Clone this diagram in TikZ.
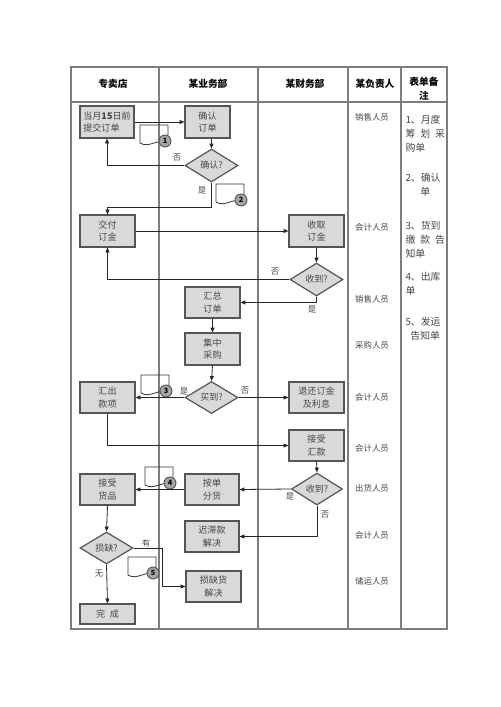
\documentclass[tikz,border=0pt]{standalone}
\usepackage{fontspec}
\setmainfont{Noto Sans CJK SC}
\usetikzlibrary{shapes.geometric,arrows.meta}

\definecolor{rulegray}{RGB}{125,125,125}
\definecolor{boxgray}{RGB}{217,217,217}
\definecolor{edgegray}{RGB}{85,85,85}
\definecolor{numgray}{RGB}{165,165,165}
\definecolor{inkgray}{RGB}{70,70,70}

\tikzset{every picture/.style={line width=0.75pt}}
\tikzset{
  grid line/.style={draw=rulegray, line width=0.9},
  stepbox/.style={draw=edgegray, fill=boxgray, line width=0.9, minimum width=41.25pt,
    minimum height=23.25pt, inner sep=1pt, align=center, text=inkgray,
    font=\fontsize{6.8}{9.6}\selectfont},
  ask/.style={diamond, draw=edgegray, fill=boxgray, line width=0.9, minimum width=39.75pt,
    minimum height=24.75pt, inner sep=0pt, text=inkgray, font=\fontsize{6.8}{8}\selectfont},
  flow/.style={draw=black!85, line width=0.6, -{Triangle[length=3.6pt,width=3pt]}},
  link/.style={draw=black!85, line width=0.6},
  tag/.style={inner sep=0.75pt, text=inkgray, font=\fontsize{6.3}{7}\selectfont},
  role/.style={inner sep=0.75pt, text=inkgray, font=\fontsize{6.3}{7}\selectfont},
  head/.style={inner sep=0.75pt, align=center, font=\fontsize{7.3}{10.5}\selectfont\bfseries},
  note/.style={anchor=north west, inner sep=0pt, align=left, text=inkgray,
    font=\fontsize{7.4}{10.2}\selectfont},
  num/.style={circle, draw=edgegray, fill=numgray, line width=0.7, minimum size=9pt,
    inner sep=0pt, font=\fontsize{5.5}{5.5}\selectfont\bfseries},
  doc/.style={draw=black!80, line width=0.6}
}

% document mark with its number: left, top, name, number
\newcommand{\docmark}[4]{%
  \draw[doc] (#1,#2+18) -- (#1,#2) -- (#1+28,#2) -- (#1+28,#2+18)
    .. controls (#1+19,#2+12) and (#1+9,#2+24) .. (#1,#2+18);
  \node[num] (#3) at (#1+25,#2+16) {#4};}

\begin{document}
\begin{tikzpicture}[x=0.75pt,y=0.75pt,yscale=-1,xscale=1]
\useasboundingbox (0,0) rectangle (500,707);

%Shape: Table
\draw [grid line] (71,67) rectangle (447,629);
\draw [grid line] (71,102) -- (447,102);
\foreach \cx in {159,258,348,401}
  \draw [grid line] (\cx,67) -- (\cx,629);

% Text Node: headers
\node [head] (h1) at (113,84) {专卖店};
\node [head] (h2) at (208,84) {某业务部};
\node [head] (h3) at (305,84) {某财务部};
\node [head] (h4) at (375,84) {某负责人};
\node [head] (h5) at (424,89) {表单备\\注};

% Text Node: roles
\node [role] (r1) at (372,117) {销售人员};
\node [role] (r2) at (372,227) {会计人员};
\node [role] (r3) at (372,299) {销售人员};
\node [role] (r4) at (372,345) {采购人员};
\node [role] (r5) at (372,397) {会计人员};
\node [role] (r6) at (372,448) {会计人员};
\node [role] (r7) at (372,488) {出货人员};
\node [role] (r8) at (372,535) {会计人员};
\node [role] (r9) at (372,581) {储运人员};

% Text Node: notes
\node [note] (m1) at (405,115) {1、月度\\\makebox[29.6pt][s]{筹\hfill 划\hfill 采}\\购单};
\node [note] (m2) at (405,173) {2、确认\\\makebox[29.6pt]{单}};
\node [note] (m3) at (405,221) {3、货到\\\makebox[29.6pt][s]{缴\hfill 款\hfill 告}\\知单};
\node [note] (m4) at (405,272) {4、出库\\单};
\node [note] (m5) at (405,317) {5、发运\\\makebox[29.6pt]{告知单}};

%Shape: document marks
\docmark{140}{125}{c1}{1}
\docmark{216}{184}{c2}{2}
\docmark{141}{375}{c3}{3}
\docmark{145}{467}{c4}{4}
\docmark{128}{557}{c5}{5}

%Shape: steps
\node [stepbox, minimum width=40.5pt, minimum height=24pt, align=left] (a1) at (107,122) {当月\textbf{15}日前\\提交订单};
\node [stepbox, minimum width=33.75pt, minimum height=24pt] (b1) at (207.5,122) {确认\\订单};
\node [ask] (d1) at (211.5,165.5) {确认?};
\node [stepbox, minimum height=24pt] (a2) at (107.5,231) {交付\\订金};
\node [stepbox, minimum height=24pt] (f1) at (316.5,231) {收取\\订金};
\node [ask] (d2) at (316.5,279.5) {收到?};
\node [stepbox] (b2) at (212.5,302.5) {汇总\\订单};
\node [stepbox, minimum height=24pt] (b3) at (212.5,349) {集中\\采购};
\node [ask, minimum height=24pt] (d3) at (211.5,397.5) {买到?};
\node [stepbox] (a3) at (107.5,397.5) {汇出\\款项};
\node [stepbox] (f2) at (316.5,397.5) {退还订金\\及利息};
\node [stepbox] (f3) at (316.5,445.5) {接受\\汇款};
\node [ask, minimum width=38.25pt, minimum height=24pt] (d4) at (317,489) {收到?};
\node [stepbox, minimum width=40.5pt] (b4) at (212,489.5) {按单\\分货};
\node [stepbox] (a4) at (107.5,489.5) {接受\\货品};
\node [stepbox, minimum width=40.5pt] (b5) at (212,536.5) {迟滞款\\解决};
\node [ask, minimum height=24pt] (d5) at (106.5,548) {损缺?};
\node [stepbox] (b6) at (213.5,586.5) {损缺货\\解决};
\node [stepbox, minimum height=15pt] (a5) at (107.5,614) {完\hspace{0.5em}成};

%Straight Lines
\draw [flow] (a1.east) -- (b1.west);
\draw [flow] (d1.north |- b1.south) -- (d1.north);
\draw [flow] (d1.west) -| (a1.south);
\draw [flow] (d1.south) -- ++(0,25) -| (a2.north);
\draw [flow] (a2.east) -- (f1.west);
\draw [flow] (f1.south) -- (d2.north);
\draw [flow] (d2.west) -| (a2.south);
\draw [flow] (d2.south) |- (b2.east);
\draw [flow] (b2.south) -- (b3.north);
\draw [flow] (b3.south) -- (d3.north);
\draw [flow] (d3.west) -- (a3.east);
\draw [flow] (d3.east) -- (f2.west);
\draw [flow] (a3.south) |- (f3.west);
\draw [flow] (f3.south) -- (d4.north);
\draw [flow] (d4.west) -- (b4.east);
\draw [flow] (b4.west) -- (a4.east);
\draw [flow] (d4.south) |- (b5.east);
\draw [flow] (a4.south) -- (d5.north);
\coordinate (k5) at (162,548);
\draw [flow] (d5.east) -- (k5) |- (b6.west);
\draw [flow] (d5.south) -- (a5.north);

% Text Node: branch labels
\node [tag] (n1) at (177,158) {否};
\node [tag] (n2) at (202,190) {是};
\node [tag] (n3) at (275,272) {否};
\node [tag] (n4) at (312,309) {是};
\node [tag] (n5) at (184,391) {是};
\node [tag] (n6) at (245,391) {否};
\node [tag] (n7) at (290,496) {是};
\node [tag] (n8) at (325,515) {否};
\node [tag] (n9) at (146,543) {有};
\node [tag] (n10) at (99,574) {无};

\end{tikzpicture}
\end{document}
